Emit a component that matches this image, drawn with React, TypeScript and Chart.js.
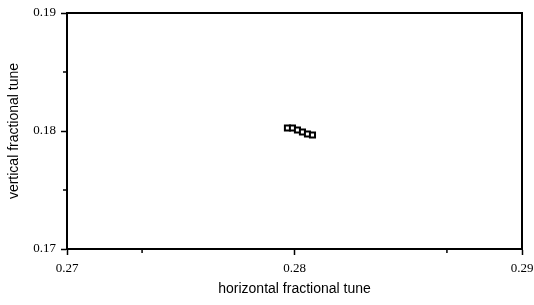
import React, { useEffect, useRef } from "react";
import { Chart, registerables } from "chart.js";

Chart.register(...registerables);

const xTune = [0.27969, 0.27991, 0.28013, 0.28035, 0.28057, 0.28079];
const yTune = [0.18025, 0.18025, 0.18008, 0.17992, 0.17975, 0.17966];
const xTicks = [0.27, 0.28, 0.29];
const yTicks = [0.17, 0.18, 0.19];
const xMinor = [0.2733, 0.2867];
const yMinor = [0.175, 0.185];

const framePlugin = {
  id: "frame",
  afterDraw(chart: any) {
    const { ctx, chartArea } = chart;
    const xs = chart.scales.x;
    const ys = chart.scales.y;
    ctx.save();
    ctx.strokeStyle = "#000";
    ctx.lineWidth = 2;
    ctx.strokeRect(chartArea.left, chartArea.top, chartArea.right - chartArea.left, chartArea.bottom - chartArea.top);
    ctx.lineWidth = 1.5;
    ctx.beginPath();
    xMinor.forEach((v) => {
      const px = xs.getPixelForValue(v);
      ctx.moveTo(px, chartArea.bottom);
      ctx.lineTo(px, chartArea.bottom + 4);
    });
    yMinor.forEach((v) => {
      const py = ys.getPixelForValue(v);
      ctx.moveTo(chartArea.left, py);
      ctx.lineTo(chartArea.left - 4, py);
    });
    ctx.stroke();
    ctx.restore();
  },
};

export default function App() {
  const ref = useRef<HTMLCanvasElement>(null);
  useEffect(() => {
    if (!ref.current) return;
    const chart = new Chart(ref.current, {
      type: "scatter",
      data: {
        datasets: [
          {
            data: xTune.map((x, i) => ({ x, y: yTune[i] })),
            pointStyle: "rect",
            pointRadius: 3.6,
            borderColor: "#000",
            backgroundColor: "rgba(255,255,255,1)",
            borderWidth: 2,
          },
        ],
      },
      options: {
        animation: false,
        responsive: false,
        layout: { padding: { top: 13, right: 12, left: 0, bottom: 0 } },
        plugins: { legend: { display: false }, tooltip: { enabled: false } },
        scales: {
          x: {
            type: "linear",
            min: 0.27,
            max: 0.29,
            afterBuildTicks: (s: any) => {
              s.ticks = xTicks.map((v) => ({ value: v }));
            },
            afterFit: (s: any) => {
              s.height = 56;
              s.paddingLeft = 0;
              s.paddingRight = 0;
            },
            grid: { display: true, drawOnChartArea: false, drawTicks: true, tickLength: 6, tickColor: "#000", tickWidth: 1.5, color: "#000" },
            border: { display: true, color: "#000", width: 2 },
            ticks: {
              color: "#000",
              padding: 6,
              maxRotation: 0,
              font: { family: "'Liberation Serif', 'DejaVu Serif', serif", size: 13 },
              callback: (v: any) => Number(v).toFixed(2),
            },
            title: {
              display: true,
              text: "horizontal fractional tune",
              color: "#000",
              font: { family: "'Liberation Sans', Arial, sans-serif", size: 14 },
              padding: { top: 0, bottom: 7 },
            },
          },
          y: {
            type: "linear",
            min: 0.17,
            max: 0.19,
            afterBuildTicks: (s: any) => {
              s.ticks = yTicks.map((v) => ({ value: v }));
            },
            afterFit: (s: any) => {
              s.width = 67;
              s.paddingTop = 0;
              s.paddingBottom = 0;
            },
            grid: { display: true, drawOnChartArea: false, drawTicks: true, tickLength: 6, tickColor: "#000", tickWidth: 1.5, color: "#000" },
            border: { display: true, color: "#000", width: 2 },
            ticks: {
              color: "#000",
              padding: 5,
              font: { family: "'Liberation Serif', 'DejaVu Serif', serif", size: 13 },
              callback: (v: any) => Number(v).toFixed(2),
            },
            title: {
              display: true,
              text: "vertical fractional tune",
              color: "#000",
              font: { family: "'Liberation Sans', Arial, sans-serif", size: 14 },
              padding: { top: 6, bottom: 0 },
            },
          },
        },
      },
      plugins: [framePlugin],
    });
    return () => chart.destroy();
  }, []);
  return (
    <div style={{ position: "fixed", left: 0, top: 0, width: 534, height: 305, background: "#fff" }}>
      <canvas ref={ref} width={534} height={305} style={{ display: "block", width: 534, height: 305 }} />
    </div>
  );
}
